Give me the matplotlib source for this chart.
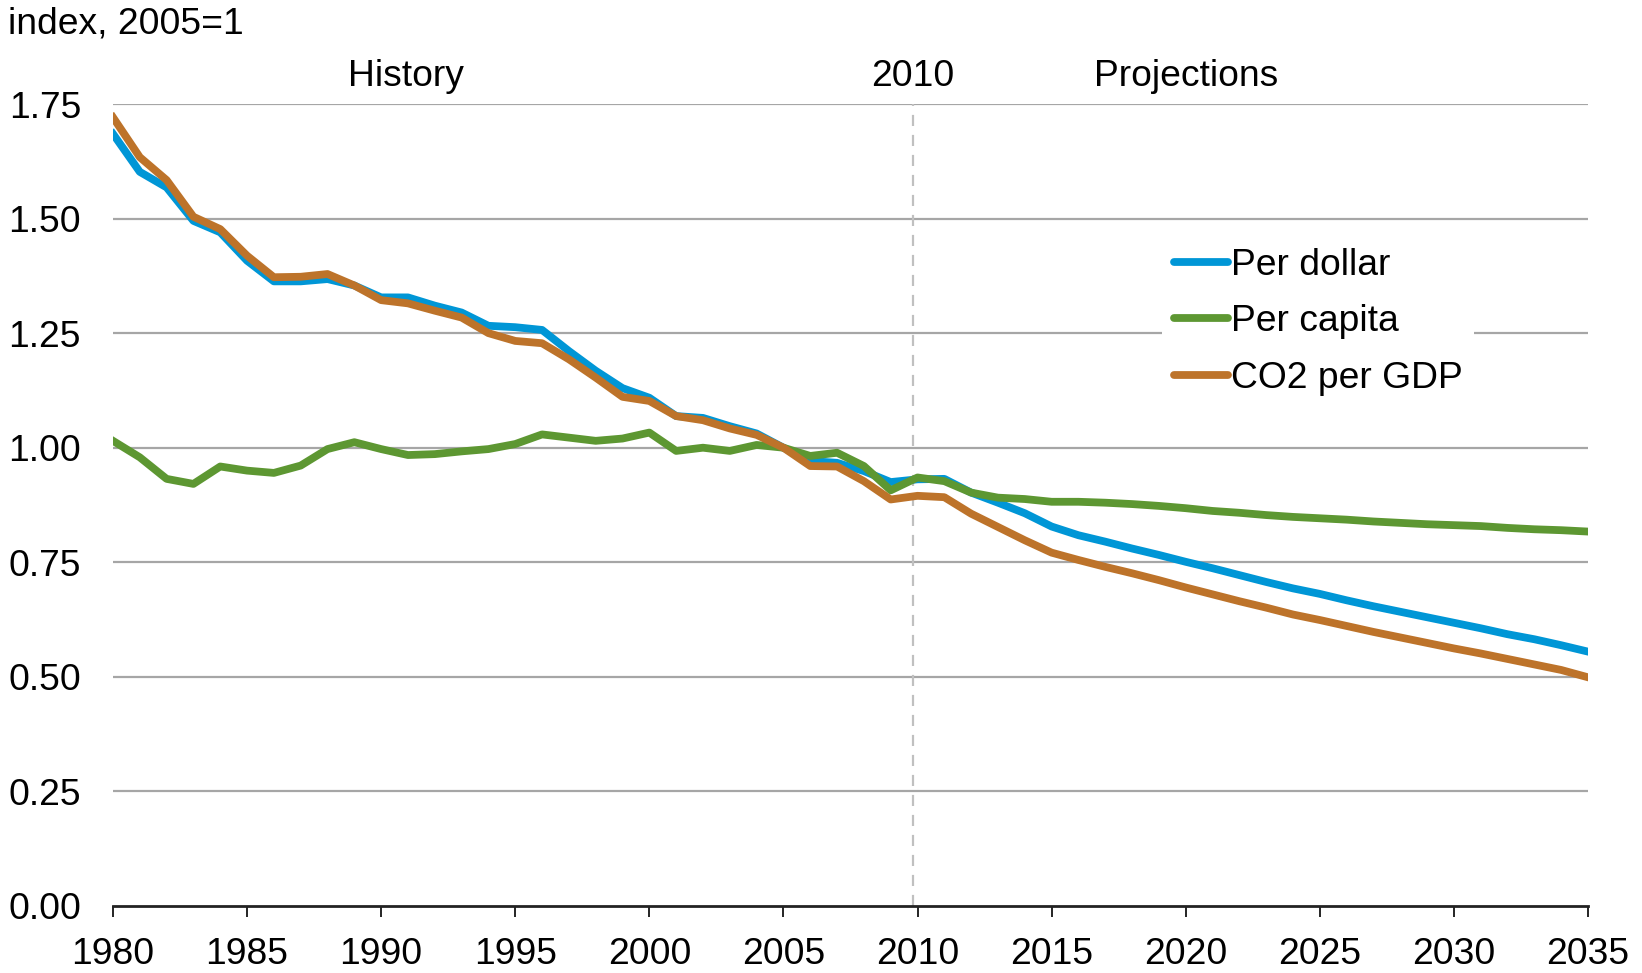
import numpy as np
import matplotlib
matplotlib.use('Agg')
from matplotlib import pyplot as plt

plt.rcParams['font.family'] = ['Liberation Sans', 'DejaVu Sans']

years = list(range(1980, 2036))

per_dollar = [1.685, 1.602, 1.568, 1.495, 1.470, 1.408, 1.363, 1.363, 1.368, 1.354,
              1.328, 1.328, 1.310, 1.295, 1.266, 1.263, 1.257, 1.211, 1.168, 1.130,
              1.109, 1.069, 1.065, 1.047, 1.031, 1.000, 0.971, 0.967, 0.949, 0.925,
              0.931, 0.932, 0.902, 0.880, 0.857, 0.828, 0.809, 0.795, 0.780, 0.766,
              0.751, 0.737, 0.722, 0.707, 0.693, 0.681, 0.667, 0.654, 0.642, 0.630,
              0.618, 0.606, 0.593, 0.582, 0.569, 0.555]

per_capita = [1.015, 0.979, 0.932, 0.921, 0.959, 0.950, 0.945, 0.961, 0.997, 1.012,
              0.997, 0.984, 0.986, 0.992, 0.997, 1.008, 1.029, 1.022, 1.015, 1.020,
              1.033, 0.993, 1.000, 0.993, 1.006, 1.000, 0.982, 0.989, 0.960, 0.907,
              0.935, 0.927, 0.902, 0.891, 0.888, 0.882, 0.882, 0.880, 0.877, 0.873,
              0.868, 0.862, 0.858, 0.853, 0.849, 0.846, 0.843, 0.839, 0.836, 0.833,
              0.831, 0.829, 0.825, 0.822, 0.820, 0.817]

co2_per_gdp = [1.721, 1.634, 1.584, 1.504, 1.477, 1.419, 1.372, 1.373, 1.379, 1.354,
               1.322, 1.315, 1.299, 1.284, 1.250, 1.233, 1.228, 1.193, 1.153, 1.111,
               1.102, 1.069, 1.060, 1.042, 1.028, 1.000, 0.960, 0.959, 0.927, 0.887,
               0.895, 0.892, 0.856, 0.827, 0.798, 0.771, 0.755, 0.740, 0.726, 0.711,
               0.695, 0.680, 0.665, 0.651, 0.636, 0.624, 0.611, 0.598, 0.586, 0.574,
               0.562, 0.551, 0.539, 0.527, 0.515, 0.499]

x_ticks = list(range(1980, 2036, 5))
y_ticks = [0, 0.25, 0.5, 0.75, 1.0, 1.25, 1.5, 1.75]

blue = '#0096d6'
green = '#5d9732'
brown = '#bd732a'
fs = 26.8

fig = plt.figure(figsize=(16.42, 9.73), dpi=100)
ax = fig.add_axes([0.0688, 0.0689, 0.8983, 0.8242])

for y in y_ticks[1:]:
    ax.axhline(y, color='#a6a6a6', lw=1.6, zorder=1)
# dashed divider between history and projections
ax.axvline(2009.85, color='#c0c0c0', lw=1.6, ls=(0, (5, 4)), zorder=1)

ax.plot(years, per_dollar, color=blue, lw=5.6, label='Per dollar', zorder=3)
ax.plot(years, per_capita, color=green, lw=5.6, label='Per capita', zorder=4)
ax.plot(years, co2_per_gdp, color=brown, lw=5.6, label='CO2 per GDP', zorder=5)

ax.set_xlim(1980, 2035)
ax.set_ylim(0, 1.75)
ax.set_xticks(x_ticks)
ax.set_yticks(y_ticks)
ax.set_yticklabels(['%.2f' % v for v in y_ticks])
ax.tick_params(axis='y', length=0, pad=23, labelsize=fs)
ax.tick_params(axis='x', length=8, width=1.2, pad=14, labelsize=fs, direction='out')
for s in ['left', 'right', 'top']:
    ax.spines[s].set_visible(False)
ax.spines['bottom'].set_linewidth(2)
ax.spines['bottom'].set_color('#222222')
ax.spines['bottom'].set_zorder(6)

leg = ax.legend(loc='upper left', bbox_to_anchor=(0.6966, 0.7760), bbox_transform=fig.transFigure,
                fontsize=fs, frameon=True, fancybox=False, edgecolor='none', framealpha=1,
                handlelength=1.45, handletextpad=0.1, labelspacing=0.58, borderpad=0.3)
for h in leg.get_lines():
    h.set_solid_capstyle('round')

fig.text(8 / 1642, 1 - 24 / 973, 'index, 2005=1', fontsize=fs, ha='left', va='center')
fig.text(406 / 1642, 1 - 77 / 973, 'History', fontsize=fs, ha='center', va='center')
fig.text(913 / 1642, 1 - 77 / 973, '2010', fontsize=fs, ha='center', va='center')
fig.text(1186 / 1642, 1 - 77 / 973, 'Projections', fontsize=fs, ha='center', va='center')

fig.savefig('out.png', dpi=100)
